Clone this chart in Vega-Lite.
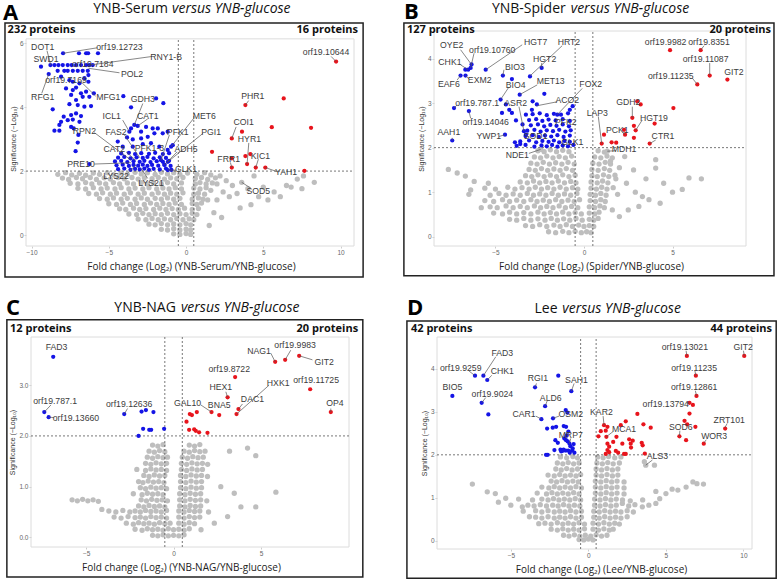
{
"$schema":"https://vega.github.io/schema/vega-lite/v6.json",
"padding":0,
"background":"white",
"columns":2,
"spacing":{"row":91,"column":80},
"bounds":"flush",
"align":"each",
"config":{
 "view":{"stroke":null},
 "axis":{"domain":false,"grid":false,"tickSize":2,"tickColor":"#cccccc","labelFont":"Liberation Sans","labelFontSize":6.5,"labelColor":"#666666","labelPadding":1,"titleFontWeight":"normal"},
 "axisX":{"titleFont":"Open Sans","titleFontSize":10,"titleColor":"#222222","titlePadding":6},
 "axisY":{"titleFont":"Liberation Sans","titleFontSize":7,"titleColor":"#333333","titlePadding":3}
},
"datasets":{
"ag":[{"x":-8.3,"y":1.9},{"x":-7.8,"y":1.95},{"x":-7.4,"y":1.88},{"x":-6.9,"y":1.93},{"x":-6.5,"y":1.87},{"x":-6.0,"y":1.94},{"x":-5.6,"y":1.9},{"x":-5.1,"y":1.95},{"x":-4.7,"y":1.89},{"x":-4.2,"y":1.94},{"x":-3.8,"y":1.9},{"x":-3.3,"y":1.96},{"x":-2.9,"y":1.91},{"x":-2.5,"y":1.95},{"x":-2.0,"y":1.9},{"x":-1.6,"y":1.96},{"x":-1.2,"y":1.91},{"x":-0.8,"y":1.95},{"x":-0.4,"y":1.9},{"x":0.1,"y":1.94},{"x":0.7,"y":1.9},{"x":1.2,"y":1.95},{"x":1.6,"y":1.88},
{"x":-8.0,"y":1.78},{"x":-7.6,"y":1.74},{"x":-7.1,"y":1.8},{"x":-6.7,"y":1.76},{"x":-6.2,"y":1.8},{"x":-5.8,"y":1.74},{"x":-5.3,"y":1.79},{"x":-4.9,"y":1.75},{"x":-4.4,"y":1.8},{"x":-4.0,"y":1.76},{"x":-3.5,"y":1.8},{"x":-3.1,"y":1.75},{"x":-2.7,"y":1.79},{"x":-2.2,"y":1.76},{"x":-1.8,"y":1.8},{"x":-1.4,"y":1.75},{"x":-1.0,"y":1.79},{"x":-0.6,"y":1.76},{"x":-0.2,"y":1.8},{"x":0.6,"y":1.77},{"x":1.0,"y":1.8},{"x":1.4,"y":1.74},{"x":1.9,"y":1.79},
{"x":-7.5,"y":1.62},{"x":-7.0,"y":1.6},{"x":-6.5,"y":1.64},{"x":-6.1,"y":1.6},{"x":-5.6,"y":1.63},{"x":-5.2,"y":1.6},{"x":-4.7,"y":1.64},{"x":-4.3,"y":1.6},{"x":-3.8,"y":1.63},{"x":-3.4,"y":1.6},{"x":-2.9,"y":1.64},{"x":-2.5,"y":1.6},{"x":-2.1,"y":1.63},{"x":-1.6,"y":1.6},{"x":-1.2,"y":1.64},{"x":-0.8,"y":1.6},{"x":-0.3,"y":1.63},{"x":0.6,"y":1.6},{"x":0.9,"y":1.64},{"x":1.3,"y":1.6},{"x":1.7,"y":1.63},
{"x":-7.0,"y":1.46},{"x":-6.5,"y":1.44},{"x":-6.0,"y":1.48},{"x":-5.5,"y":1.44},{"x":-5.1,"y":1.47},{"x":-4.6,"y":1.44},{"x":-4.2,"y":1.48},{"x":-3.7,"y":1.44},{"x":-3.3,"y":1.47},{"x":-2.8,"y":1.44},{"x":-2.4,"y":1.48},{"x":-1.9,"y":1.44},{"x":-1.5,"y":1.47},{"x":-1.1,"y":1.44},{"x":-0.7,"y":1.48},{"x":-0.3,"y":1.44},{"x":0.5,"y":1.47},{"x":0.9,"y":1.44},{"x":1.3,"y":1.48},
{"x":-6.3,"y":1.3},{"x":-5.8,"y":1.28},{"x":-5.4,"y":1.32},{"x":-4.9,"y":1.28},{"x":-4.5,"y":1.31},{"x":-4.0,"y":1.28},{"x":-3.6,"y":1.32},{"x":-3.1,"y":1.28},{"x":-2.7,"y":1.31},{"x":-2.2,"y":1.28},{"x":-1.8,"y":1.32},{"x":-1.4,"y":1.28},{"x":-1.0,"y":1.31},{"x":-0.6,"y":1.28},{"x":-0.2,"y":1.32},{"x":0.5,"y":1.28},{"x":0.8,"y":1.31},{"x":1.2,"y":1.28},
{"x":-5.6,"y":1.14},{"x":-5.1,"y":1.12},{"x":-4.7,"y":1.16},{"x":-4.2,"y":1.12},{"x":-3.8,"y":1.15},{"x":-3.3,"y":1.12},{"x":-2.9,"y":1.16},{"x":-2.5,"y":1.12},{"x":-2.0,"y":1.15},{"x":-1.6,"y":1.12},{"x":-1.2,"y":1.16},{"x":-0.8,"y":1.12},{"x":-0.4,"y":1.15},{"x":0.4,"y":1.12},{"x":0.8,"y":1.16},{"x":1.1,"y":1.12},
{"x":-5.0,"y":0.98},{"x":-4.5,"y":0.96},{"x":-4.1,"y":1.0},{"x":-3.6,"y":0.96},{"x":-3.2,"y":0.99},{"x":-2.7,"y":0.96},{"x":-2.3,"y":1.0},{"x":-1.9,"y":0.96},{"x":-1.5,"y":0.99},{"x":-1.1,"y":0.96},{"x":-0.7,"y":1.0},{"x":-0.3,"y":0.96},{"x":0.4,"y":0.99},{"x":0.7,"y":0.96},{"x":1.0,"y":1.0},
{"x":-4.3,"y":0.82},{"x":-3.9,"y":0.8},{"x":-3.4,"y":0.84},{"x":-3.0,"y":0.8},{"x":-2.6,"y":0.83},{"x":-2.1,"y":0.8},{"x":-1.7,"y":0.84},{"x":-1.3,"y":0.8},{"x":-0.9,"y":0.83},{"x":-0.5,"y":0.8},{"x":-0.1,"y":0.84},{"x":0.4,"y":0.8},{"x":0.8,"y":0.83},
{"x":-3.7,"y":0.66},{"x":-3.2,"y":0.64},{"x":-2.8,"y":0.68},{"x":-2.4,"y":0.64},{"x":-2.0,"y":0.67},{"x":-1.6,"y":0.64},{"x":-1.2,"y":0.68},{"x":-0.8,"y":0.64},{"x":-0.4,"y":0.67},{"x":0.0,"y":0.64},{"x":0.4,"y":0.68},{"x":0.7,"y":0.64},
{"x":-3.1,"y":0.5},{"x":-2.6,"y":0.48},{"x":-2.2,"y":0.52},{"x":-1.8,"y":0.48},{"x":-1.4,"y":0.51},{"x":-1.0,"y":0.48},{"x":-0.6,"y":0.52},{"x":-0.2,"y":0.48},{"x":0.2,"y":0.51},{"x":0.5,"y":0.48},
{"x":-2.4,"y":0.34},{"x":-2.0,"y":0.32},{"x":-1.6,"y":0.36},{"x":-1.2,"y":0.32},{"x":-0.8,"y":0.35},{"x":-0.4,"y":0.32},{"x":0.0,"y":0.36},{"x":0.3,"y":0.32},
{"x":-1.6,"y":0.18},{"x":-1.2,"y":0.16},{"x":-0.8,"y":0.2},{"x":-0.4,"y":0.16},{"x":0.0,"y":0.19},{"x":0.3,"y":0.16},
{"x":-0.8,"y":0.04},{"x":-0.4,"y":0.02},{"x":0.0,"y":0.05},{"x":0.3,"y":0.02},
{"x":2.2,"y":1.85},{"x":2.6,"y":1.7},{"x":3.0,"y":1.55},{"x":2.4,"y":1.35},{"x":2.0,"y":1.1},{"x":2.8,"y":1.2},{"x":3.6,"y":1.65},{"x":3.3,"y":1.3},{"x":4.0,"y":1.45},{"x":4.4,"y":1.85},{"x":4.7,"y":1.2},{"x":5.0,"y":1.5},{"x":5.3,"y":1.1},{"x":5.7,"y":1.35},{"x":6.1,"y":1.2},{"x":6.5,"y":1.55},{"x":6.8,"y":1.5},{"x":7.2,"y":1.75},{"x":7.6,"y":1.85},{"x":8.3,"y":1.65},{"x":7.5,"y":1.45},{"x":4.2,"y":0.95},{"x":3.5,"y":0.85},{"x":1.8,"y":0.7},{"x":2.3,"y":0.55},{"x":1.5,"y":0.3},{"x":1.6,"y":1.4},{"x":2.0,"y":1.6},{"x":1.4,"y":1.1}],
"ab":[{"x":-7.96,"y":5.68},{"x":-6.93,"y":5.68},{"x":-6.47,"y":5.68},{"x":-6.34,"y":5.68},{"x":-5.7,"y":5.68},
{"x":-9.39,"y":5.26},{"x":-8.78,"y":5.31},{"x":-8.52,"y":5.31},{"x":-8.26,"y":5.31},{"x":-7.98,"y":5.31},{"x":-7.66,"y":5.31},{"x":-7.4,"y":5.31},{"x":-7.12,"y":5.31},{"x":-6.8,"y":5.31},{"x":-6.47,"y":5.31},{"x":-6.26,"y":5.31},{"x":-6.04,"y":5.31},
{"x":-8.31,"y":5.13},{"x":-7.88,"y":5.13},{"x":-7.66,"y":5.13},{"x":-7.33,"y":5.13},{"x":-7.01,"y":5.13},{"x":-6.69,"y":5.13},{"x":-6.36,"y":5.13},{"x":-8.89,"y":5.03},
{"x":-8.09,"y":4.95},{"x":-7.55,"y":4.84},{"x":-7.33,"y":4.79},{"x":-6.58,"y":4.9},{"x":-6.32,"y":5.0},{"x":-6.32,"y":4.79},{"x":-6.9,"y":4.74},
{"x":-7.77,"y":4.58},{"x":-7.33,"y":4.53},{"x":-7.12,"y":4.61},{"x":-6.8,"y":4.43},{"x":-6.47,"y":4.48},{"x":-6.69,"y":4.32},{"x":-7.12,"y":4.22},{"x":-7.44,"y":4.38},{"x":-6.26,"y":4.32},{"x":-5.97,"y":4.43},
{"x":-7.55,"y":4.09},{"x":-7.01,"y":4.06},{"x":-6.58,"y":4.01},{"x":-6.15,"y":4.03},
{"x":-8.63,"y":3.93},{"x":-7.92,"y":3.7},{"x":-7.44,"y":3.75},{"x":-7.12,"y":3.8},{"x":-6.8,"y":3.72},{"x":-8.09,"y":3.54},{"x":-7.66,"y":3.59},{"x":-7.33,"y":3.61},{"x":-6.9,"y":3.54},{"x":-8.2,"y":3.44},{"x":-7.44,"y":3.38},{"x":-7.27,"y":3.33},{"x":-8.52,"y":3.26},{"x":-8.2,"y":3.26},{"x":-6.97,"y":3.13},{"x":-7.01,"y":2.89},{"x":-7.15,"y":2.62},
{"x":-4.06,"y":4.34},{"x":-1.94,"y":4.27},{"x":-1.47,"y":4.12},{"x":-3.56,"y":3.99},
{"x":-3.35,"y":3.44},{"x":-3.56,"y":3.33},{"x":-3.13,"y":3.41},{"x":-3.67,"y":3.23},{"x":-2.91,"y":3.23},{"x":-2.59,"y":3.38},{"x":-2.16,"y":3.33},{"x":-1.83,"y":3.33},{"x":-1.51,"y":3.18},{"x":-1.19,"y":3.23},{"x":-2.05,"y":3.18},{"x":-2.48,"y":3.07},{"x":-2.91,"y":3.02},{"x":-3.45,"y":2.99},{"x":-3.82,"y":3.05},{"x":-4.42,"y":2.92},{"x":-4.1,"y":2.76},{"x":-3.45,"y":2.76},{"x":-2.8,"y":2.84},{"x":-2.27,"y":2.87},{"x":-1.73,"y":2.76},{"x":-1.19,"y":2.66},{"x":-0.86,"y":2.81},{"x":-0.97,"y":2.76},
{"x":-4.2,"y":2.55},{"x":-3.7,"y":2.57},{"x":-3.3,"y":2.53},{"x":-2.9,"y":2.56},{"x":-2.4,"y":2.54},{"x":-2.0,"y":2.57},{"x":-1.5,"y":2.53},{"x":-1.1,"y":2.56},
{"x":-4.4,"y":2.42},{"x":-4.0,"y":2.44},{"x":-3.6,"y":2.4},{"x":-3.2,"y":2.43},{"x":-2.8,"y":2.41},{"x":-2.5,"y":2.44},{"x":-2.1,"y":2.4},{"x":-1.7,"y":2.43},{"x":-1.3,"y":2.41},
{"x":-4.6,"y":2.3},{"x":-4.2,"y":2.32},{"x":-3.8,"y":2.28},{"x":-3.4,"y":2.31},{"x":-3.0,"y":2.29},{"x":-2.7,"y":2.32},{"x":-2.3,"y":2.28},{"x":-1.9,"y":2.31},{"x":-1.5,"y":2.29},{"x":-1.1,"y":2.32},
{"x":-4.5,"y":2.18},{"x":-4.1,"y":2.2},{"x":-3.7,"y":2.16},{"x":-3.4,"y":2.19},{"x":-3.1,"y":2.17},{"x":-2.8,"y":2.2},{"x":-2.5,"y":2.16},{"x":-2.2,"y":2.19},{"x":-1.8,"y":2.17},{"x":-1.4,"y":2.2},{"x":-1.0,"y":2.16},
{"x":-4.4,"y":2.06},{"x":-4.0,"y":2.08},{"x":-3.6,"y":2.04},{"x":-3.3,"y":2.07},{"x":-3.0,"y":2.05},{"x":-2.7,"y":2.08},{"x":-2.4,"y":2.04},{"x":-2.1,"y":2.07},{"x":-1.7,"y":2.05},{"x":-1.3,"y":2.08},{"x":-0.95,"y":2.04},
{"x":-6.26,"y":2.22},{"x":-1.18,"y":2.03},{"x":-1.4,"y":2.19},{"x":-1.18,"y":2.29},{"x":-1.62,"y":2.34}],
"ar":[{"x":9.71,"y":5.42},{"x":6.32,"y":4.27},{"x":3.84,"y":4.06},{"x":5.55,"y":3.37},{"x":8.09,"y":3.35},{"x":3.62,"y":3.23},{"x":2.96,"y":3.02},{"x":1.68,"y":2.6},{"x":4.16,"y":2.53},{"x":3.84,"y":2.47},{"x":2.96,"y":2.4},{"x":3.95,"y":2.22},{"x":2.96,"y":2.11},{"x":4.51,"y":2.11},{"x":5.13,"y":2.11},{"x":7.66,"y":2.01}],
"al":[{"t":"DOT1","x":-8.76,"y":5.31,"ex":-9.0,"ey":5.76,"lx":-9.28,"ly":5.88},
{"t":"SWD1","x":-9.06,"y":5.49,"ex":-9.06,"ey":5.49,"lx":-9.06,"ly":5.49},
{"t":"orf19.12723","x":-7.96,"y":5.68,"ex":-5.75,"ey":5.85,"lx":-4.31,"ly":5.88},
{"t":"RNY1-B","x":-6.26,"y":5.31,"ex":-2.2,"ey":5.58,"lx":-1.29,"ly":5.57},
{"t":"orf19.7184","x":-6.04,"y":5.34,"ex":-6.04,"ey":5.34,"lx":-6.04,"ly":5.34},
{"t":"POL2","x":-6.32,"y":5.21,"ex":-4.31,"ey":5.07,"lx":-3.5,"ly":5.03},
{"t":"orf19.7169","x":-7.77,"y":4.84,"ex":-7.77,"ey":4.84,"lx":-7.77,"ly":4.84},
{"t":"RFG1","x":-8.89,"y":5.03,"ex":-9.34,"ey":4.43,"lx":-9.28,"ly":4.3},
{"t":"MFG1","x":-6.8,"y":4.79,"ex":-5.85,"ey":4.34,"lx":-5.03,"ly":4.3},
{"t":"GDH3","x":-3.35,"y":3.44,"ex":-2.8,"ey":4.11,"lx":-2.8,"ly":4.25},
{"t":"ICL1","x":-3.67,"y":3.23,"ex":-4.1,"ey":3.59,"lx":-4.81,"ly":3.73},
{"t":"CAT1","x":-3.13,"y":3.41,"ex":-2.48,"ey":3.63,"lx":-2.48,"ly":3.73},
{"t":"FAS2","x":-3.0,"y":2.42,"ex":-3.99,"ey":3.13,"lx":-4.53,"ly":3.23},
{"t":"RPN2","x":-3.56,"y":2.34,"ex":-5.93,"ey":3.2,"lx":-6.58,"ly":3.25},
{"t":"CAT2","x":-3.24,"y":2.33,"ex":-3.88,"ey":2.6,"lx":-4.64,"ly":2.69},
{"t":"PFK1-3","x":-2.37,"y":2.71,"ex":-2.37,"ey":2.71,"lx":-2.37,"ly":2.71},
{"t":"PFK1","x":-1.62,"y":2.34,"ex":-1.08,"ey":3.13,"lx":-0.54,"ly":3.23},
{"t":"MET6","x":-0.97,"y":2.76,"ex":0.5,"ey":3.65,"lx":1.18,"ly":3.73},
{"t":"PGI1","x":-1.18,"y":2.29,"ex":1.1,"ey":3.18,"lx":1.62,"ly":3.23},
{"t":"ADH5","x":-1.4,"y":2.19,"ex":-0.58,"ey":2.6,"lx":0.0,"ly":2.69},
{"t":"GLK1","x":-1.18,"y":2.03,"ex":-0.65,"ey":2.03,"lx":0.0,"ly":2.05},
{"t":"PRE10","x":-3.56,"y":2.26,"ex":-5.93,"ey":2.22,"lx":-6.8,"ly":2.21},
{"t":"LYS22","x":-3.24,"y":2.19,"ex":-3.77,"ey":1.95,"lx":-4.53,"ly":1.85},
{"t":"LYS21","x":-2.91,"y":2.08,"ex":-2.48,"ey":1.77,"lx":-2.27,"ly":1.63},
{"t":"orf19.10644","x":9.71,"y":5.42,"ex":9.39,"ey":5.58,"lx":9.06,"ly":5.71},
{"t":"PHR1","x":3.84,"y":4.06,"ex":4.05,"ey":4.2,"lx":4.32,"ly":4.34},
{"t":"COI1","x":2.96,"y":3.02,"ex":3.24,"ey":3.38,"lx":3.73,"ly":3.54},
{"t":"HYR1","x":3.95,"y":2.22,"ex":4.06,"ey":2.88,"lx":4.1,"ly":3.0},
{"t":"KIC1","x":4.51,"y":2.11,"ex":4.68,"ey":2.37,"lx":4.81,"ly":2.48},
{"t":"FRR1","x":2.96,"y":2.11,"ex":2.87,"ey":2.27,"lx":2.76,"ly":2.37},
{"t":"YAH1","x":5.13,"y":2.11,"ex":5.9,"ey":1.98,"lx":6.47,"ly":1.96},
{"t":"SOD5","x":3.6,"y":1.65,"ex":4.21,"ey":1.46,"lx":4.68,"ly":1.38}],
"bg":[{"x":-2.6,"y":1.93},{"x":-2.25,"y":1.91},{"x":-1.9,"y":1.95},{"x":-1.55,"y":1.91},{"x":-1.2,"y":1.94},{"x":-0.85,"y":1.91},{"x":0.8,"y":1.93},{"x":1.15,"y":1.9},
{"x":-2.8,"y":1.79},{"x":-2.45,"y":1.77},{"x":-2.1,"y":1.81},{"x":-1.75,"y":1.77},{"x":-1.4,"y":1.8},{"x":-1.05,"y":1.77},{"x":-0.7,"y":1.81},{"x":0.6,"y":1.79},{"x":0.95,"y":1.77},{"x":1.3,"y":1.81},{"x":1.6,"y":1.77},
{"x":-3.0,"y":1.65},{"x":-2.65,"y":1.63},{"x":-2.3,"y":1.67},{"x":-1.95,"y":1.63},{"x":-1.6,"y":1.66},{"x":-1.25,"y":1.63},{"x":-0.9,"y":1.67},{"x":-0.55,"y":1.63},{"x":0.5,"y":1.65},{"x":0.85,"y":1.63},{"x":1.2,"y":1.67},{"x":1.5,"y":1.63},
{"x":-7.66,"y":1.51},{"x":-3.1,"y":1.51},{"x":-2.75,"y":1.49},{"x":-2.4,"y":1.53},{"x":-2.05,"y":1.49},{"x":-1.7,"y":1.52},{"x":-1.35,"y":1.49},{"x":-1.0,"y":1.53},{"x":-0.65,"y":1.49},{"x":0.45,"y":1.51},{"x":0.8,"y":1.49},{"x":1.15,"y":1.53},{"x":1.45,"y":1.49},
{"x":-7.16,"y":1.43},{"x":-6.7,"y":1.36},{"x":-3.3,"y":1.37},{"x":-2.95,"y":1.35},{"x":-2.6,"y":1.39},{"x":-2.25,"y":1.35},{"x":-1.9,"y":1.38},{"x":-1.55,"y":1.35},{"x":-1.2,"y":1.39},{"x":-0.85,"y":1.35},{"x":-0.5,"y":1.38},{"x":0.45,"y":1.37},{"x":0.75,"y":1.35},{"x":1.1,"y":1.39},{"x":1.4,"y":1.35},{"x":1.75,"y":1.38},
{"x":-6.2,"y":1.24},{"x":-5.4,"y":1.2},{"x":-3.6,"y":1.23},{"x":-3.2,"y":1.21},{"x":-2.85,"y":1.25},{"x":-2.5,"y":1.21},{"x":-2.15,"y":1.24},{"x":-1.8,"y":1.21},{"x":-1.45,"y":1.25},{"x":-1.1,"y":1.21},{"x":-0.75,"y":1.24},{"x":-0.45,"y":1.21},{"x":0.4,"y":1.23},{"x":0.75,"y":1.21},{"x":1.05,"y":1.25},{"x":1.35,"y":1.21},
{"x":-6.4,"y":1.05},{"x":-5.6,"y":1.09},{"x":-5.0,"y":1.07},{"x":-4.3,"y":1.11},{"x":-3.9,"y":1.07},{"x":-3.5,"y":1.1},{"x":-3.1,"y":1.07},{"x":-2.75,"y":1.11},{"x":-2.4,"y":1.07},{"x":-2.05,"y":1.1},{"x":-1.7,"y":1.07},{"x":-1.35,"y":1.11},{"x":-1.0,"y":1.07},{"x":-0.65,"y":1.1},{"x":-0.35,"y":1.07},{"x":0.4,"y":1.09},{"x":0.7,"y":1.07},{"x":1.0,"y":1.11},{"x":1.3,"y":1.07},{"x":1.65,"y":1.1},
{"x":-6.5,"y":0.95},{"x":-5.3,"y":0.93},{"x":-4.8,"y":0.97},{"x":-4.4,"y":0.93},{"x":-4.0,"y":0.96},{"x":-3.6,"y":0.93},{"x":-3.2,"y":0.97},{"x":-2.85,"y":0.93},{"x":-2.5,"y":0.96},{"x":-2.15,"y":0.93},{"x":-1.8,"y":0.97},{"x":-1.45,"y":0.93},{"x":-1.1,"y":0.96},{"x":-0.75,"y":0.93},{"x":-0.4,"y":0.97},{"x":0.35,"y":0.95},{"x":0.65,"y":0.93},{"x":0.95,"y":0.97},{"x":1.25,"y":0.93},
{"x":-5.6,"y":0.81},{"x":-5.1,"y":0.79},{"x":-4.6,"y":0.83},{"x":-4.2,"y":0.79},{"x":-3.8,"y":0.82},{"x":-3.4,"y":0.79},{"x":-3.0,"y":0.83},{"x":-2.65,"y":0.79},{"x":-2.3,"y":0.82},{"x":-1.95,"y":0.79},{"x":-1.6,"y":0.83},{"x":-1.25,"y":0.79},{"x":-0.9,"y":0.82},{"x":-0.55,"y":0.79},{"x":-0.25,"y":0.83},{"x":0.35,"y":0.81},{"x":0.65,"y":0.79},{"x":0.95,"y":0.83},{"x":1.2,"y":0.79},
{"x":-5.8,"y":0.65},{"x":-5.3,"y":0.67},{"x":-4.9,"y":0.65},{"x":-4.4,"y":0.69},{"x":-4.0,"y":0.65},{"x":-3.6,"y":0.68},{"x":-3.2,"y":0.65},{"x":-2.8,"y":0.69},{"x":-2.45,"y":0.65},{"x":-2.1,"y":0.68},{"x":-1.75,"y":0.65},{"x":-1.4,"y":0.69},{"x":-1.05,"y":0.65},{"x":-0.7,"y":0.68},{"x":-0.35,"y":0.65},{"x":0.3,"y":0.67},{"x":0.6,"y":0.65},{"x":0.9,"y":0.69},{"x":1.15,"y":0.65},
{"x":-5.1,"y":0.53},{"x":-4.6,"y":0.51},{"x":-4.2,"y":0.55},{"x":-3.8,"y":0.51},{"x":-3.4,"y":0.54},{"x":-3.0,"y":0.51},{"x":-2.6,"y":0.55},{"x":-2.25,"y":0.51},{"x":-1.9,"y":0.54},{"x":-1.55,"y":0.51},{"x":-1.2,"y":0.55},{"x":-0.85,"y":0.51},{"x":-0.5,"y":0.54},{"x":-0.15,"y":0.51},{"x":0.3,"y":0.53},{"x":0.6,"y":0.51},{"x":0.85,"y":0.55},
{"x":-4.2,"y":0.39},{"x":-3.8,"y":0.37},{"x":-3.4,"y":0.41},{"x":-3.0,"y":0.37},{"x":-2.6,"y":0.4},{"x":-2.2,"y":0.37},{"x":-1.85,"y":0.41},{"x":-1.5,"y":0.37},{"x":-1.15,"y":0.4},{"x":-0.8,"y":0.37},{"x":-0.45,"y":0.41},{"x":-0.1,"y":0.37},{"x":0.3,"y":0.39},{"x":0.55,"y":0.37},{"x":0.8,"y":0.41},
{"x":-3.3,"y":0.25},{"x":-2.9,"y":0.23},{"x":-2.5,"y":0.27},{"x":-2.1,"y":0.23},{"x":-1.7,"y":0.26},{"x":-1.35,"y":0.23},{"x":-1.0,"y":0.27},{"x":-0.65,"y":0.23},{"x":-0.3,"y":0.26},{"x":0.0,"y":0.23},{"x":0.3,"y":0.25},{"x":0.55,"y":0.23},
{"x":-2.0,"y":0.11},{"x":-1.6,"y":0.09},{"x":-1.2,"y":0.12},{"x":-0.85,"y":0.09},{"x":-0.5,"y":0.12},{"x":-0.15,"y":0.09},{"x":0.15,"y":0.11},{"x":0.4,"y":0.09},
{"x":1.5,"y":1.7},{"x":2.0,"y":1.55},{"x":1.8,"y":1.3},{"x":2.4,"y":1.2},{"x":2.9,"y":1.0},{"x":3.3,"y":0.9},{"x":3.67,"y":0.83},{"x":3.1,"y":0.68},{"x":4.05,"y":1.73},{"x":4.05,"y":1.54},{"x":4.5,"y":1.2},{"x":5.0,"y":1.0},{"x":5.55,"y":1.06},{"x":5.93,"y":1.32},{"x":6.63,"y":1.3},{"x":2.5,"y":0.6},{"x":2.0,"y":0.45},{"x":4.3,"y":0.75},{"x":3.5,"y":1.3},{"x":2.8,"y":1.5},{"x":2.3,"y":1.8},{"x":1.32,"y":1.92},{"x":-2.45,"y":1.96},{"x":1.9,"y":0.95},{"x":1.6,"y":0.6}],
"bb":[{"x":-6.35,"y":3.87},{"x":-6.4,"y":3.79},{"x":-6.54,"y":3.75},{"x":-6.7,"y":3.75},{"x":-6.97,"y":3.62},{"x":-6.69,"y":3.62},{"x":-5.55,"y":3.75},{"x":-4.58,"y":3.62},{"x":-4.07,"y":3.54},{"x":-3.05,"y":3.6},{"x":-2.39,"y":3.79},{"x":-4.71,"y":3.08},{"x":-3.63,"y":3.19},{"x":-7.34,"y":2.89},{"x":-6.5,"y":2.82},{"x":-7.44,"y":2.16},{"x":-4.46,"y":2.29},{"x":-2.9,"y":3.04},{"x":-2.66,"y":2.97},{"x":-2.24,"y":3.21},{"x":-4.41,"y":2.97},{"x":-4.22,"y":2.85},{"x":-4.07,"y":2.78},{"x":-4.63,"y":2.78},{"x":-3.28,"y":2.74},{"x":-3.84,"y":2.61},{"x":-3.47,"y":2.52},{"x":-2.94,"y":2.85},{"x":-0.64,"y":2.93},{"x":-0.8,"y":2.85},{"x":-3.9,"y":2.12},{"x":-3.6,"y":2.08},{"x":-3.28,"y":2.29},{"x":-3.39,"y":2.37},{"x":-1.51,"y":2.74},
{"x":-2.9,"y":2.75},{"x":-2.5,"y":2.77},{"x":-2.1,"y":2.73},{"x":-1.7,"y":2.76},{"x":-1.3,"y":2.74},{"x":-0.9,"y":2.77},
{"x":-3.1,"y":2.62},{"x":-2.7,"y":2.64},{"x":-2.35,"y":2.6},{"x":-2.0,"y":2.63},{"x":-1.6,"y":2.61},{"x":-1.2,"y":2.64},{"x":-0.8,"y":2.6},
{"x":-3.0,"y":2.5},{"x":-2.6,"y":2.52},{"x":-2.25,"y":2.48},{"x":-1.9,"y":2.51},{"x":-1.55,"y":2.49},{"x":-1.2,"y":2.52},{"x":-0.85,"y":2.48},
{"x":-3.2,"y":2.38},{"x":-2.8,"y":2.4},{"x":-2.45,"y":2.36},{"x":-2.1,"y":2.39},{"x":-1.75,"y":2.37},{"x":-1.4,"y":2.4},{"x":-1.05,"y":2.36},{"x":-0.75,"y":2.39},
{"x":-3.3,"y":2.26},{"x":-2.9,"y":2.28},{"x":-2.55,"y":2.24},{"x":-2.2,"y":2.27},{"x":-1.85,"y":2.25},{"x":-1.5,"y":2.28},{"x":-1.15,"y":2.24},{"x":-0.8,"y":2.27},
{"x":-3.6,"y":2.14},{"x":-3.1,"y":2.16},{"x":-2.7,"y":2.12},{"x":-2.35,"y":2.15},{"x":-2.0,"y":2.13},{"x":-1.7,"y":2.16},{"x":-1.4,"y":2.12},{"x":-1.1,"y":2.15},{"x":-0.8,"y":2.13},
{"x":-3.8,"y":2.04},{"x":-3.3,"y":2.06},{"x":-2.8,"y":2.02},{"x":-2.4,"y":2.05},{"x":-2.1,"y":2.03},{"x":-1.8,"y":2.06},{"x":-1.5,"y":2.02},{"x":-1.2,"y":2.05},{"x":-0.9,"y":2.03},{"x":-0.6,"y":2.06}],
"br":[{"x":4.86,"y":4.19},{"x":6.59,"y":4.19},{"x":7.1,"y":3.62},{"x":8.1,"y":3.53},{"x":6.4,"y":3.42},{"x":5.05,"y":2.89},{"x":3.01,"y":3.04},{"x":3.2,"y":2.97},{"x":2.73,"y":2.67},{"x":2.82,"y":2.49},{"x":2.92,"y":2.39},{"x":3.99,"y":2.54},{"x":2.26,"y":2.4},{"x":2.32,"y":2.29},{"x":2.82,"y":2.22},{"x":3.71,"y":2.09},{"x":1.0,"y":2.09},{"x":1.13,"y":2.29},{"x":1.56,"y":2.12},{"x":1.82,"y":2.11}],
"bl":[{"t":"OYE2","x":-6.34,"y":3.86,"ex":-6.97,"ey":4.2,"lx":-7.47,"ly":4.31},
{"t":"orf19.10760","x":-6.4,"y":3.79,"ex":-6.21,"ey":4.12,"lx":-5.18,"ly":4.2},
{"t":"HGT7","x":-5.55,"y":3.75,"ex":-3.49,"ey":4.31,"lx":-2.73,"ly":4.38},
{"t":"HRT2","x":-3.05,"y":3.61,"ex":-1.23,"ey":4.29,"lx":-0.85,"ly":4.38},
{"t":"CHK1","x":-6.54,"y":3.75,"ex":-6.97,"ey":3.86,"lx":-7.57,"ly":3.93},
{"t":"EAF6","x":-6.97,"y":3.62,"ex":-7.16,"ey":3.52,"lx":-7.63,"ly":3.43},
{"t":"EXM2","x":-6.69,"y":3.62,"ex":-6.5,"ey":3.54,"lx":-5.89,"ly":3.52},
{"t":"BIO3","x":-4.58,"y":3.62,"ex":-4.52,"ey":3.75,"lx":-3.9,"ly":3.82},
{"t":"HGT2","x":-2.39,"y":3.79,"ex":-2.39,"ey":3.9,"lx":-2.22,"ly":3.99},
{"t":"BIO4","x":-4.71,"y":3.08,"ex":-4.24,"ey":3.36,"lx":-3.86,"ly":3.41},
{"t":"MET13","x":-3.63,"y":3.19,"ex":-2.64,"ey":3.41,"lx":-1.88,"ly":3.5},
{"t":"orf19.787.1","x":-7.34,"y":2.89,"ex":-7.16,"ey":2.96,"lx":-6.03,"ly":3.01},
{"t":"orf19.14046","x":-6.5,"y":2.82,"ex":-6.4,"ey":2.66,"lx":-5.55,"ly":2.58},
{"t":"ASR2","x":-3.39,"y":2.37,"ex":-3.67,"ey":2.92,"lx":-3.86,"ly":3.01},
{"t":"ACO2","x":-2.67,"y":2.94,"ex":-1.51,"ey":3.03,"lx":-0.94,"ly":3.07},
{"t":"AAH1","x":-7.44,"y":2.16,"ex":-7.44,"ey":2.22,"lx":-7.63,"ly":2.34},
{"t":"YWP1","x":-4.46,"y":2.29,"ex":-4.8,"ey":2.25,"lx":-5.37,"ly":2.25},
{"t":"NDE1","x":-2.45,"y":1.96,"ex":-3.11,"ey":1.87,"lx":-3.77,"ly":1.84},
{"t":"SOD1","x":-2.73,"y":2.25,"ex":-2.73,"ey":2.25,"lx":-2.73,"ly":2.25},
{"t":"PFK2","x":-1.03,"y":2.58,"ex":-1.03,"ey":2.58,"lx":-1.03,"ly":2.58},
{"t":"GLK1","x":-0.66,"y":2.13,"ex":-0.66,"ey":2.13,"lx":-0.66,"ly":2.13},
{"t":"FOX2","x":-1.51,"y":2.74,"ex":-0.1,"ey":3.33,"lx":0.38,"ly":3.43},
{"t":"orf19.9982","x":4.86,"y":4.19,"ex":4.86,"ey":4.19,"lx":4.61,"ly":4.38},
{"t":"orf19.8351","x":6.59,"y":4.19,"ex":6.78,"ey":4.29,"lx":7.06,"ly":4.38},
{"t":"orf19.11087","x":7.1,"y":3.62,"ex":7.1,"ey":3.9,"lx":6.87,"ly":3.99},
{"t":"GIT2","x":8.1,"y":3.53,"ex":8.1,"ey":3.53,"lx":8.47,"ly":3.71},
{"t":"orf19.11235","x":6.4,"y":3.42,"ex":6.12,"ey":3.56,"lx":4.9,"ly":3.61},
{"t":"GDH2","x":2.73,"y":2.67,"ex":2.73,"ey":2.92,"lx":2.5,"ly":3.02},
{"t":"HGT19","x":2.92,"y":2.39,"ex":3.29,"ey":2.62,"lx":3.95,"ly":2.66},
{"t":"PCK1","x":2.32,"y":2.29,"ex":2.2,"ey":2.33,"lx":1.88,"ly":2.4},
{"t":"CTR1","x":3.71,"y":2.09,"ex":4.05,"ey":2.17,"lx":4.46,"ly":2.26},
{"t":"LAP3","x":1.0,"y":2.09,"ex":0.81,"ey":2.7,"lx":0.75,"ly":2.77},
{"t":"MDH1","x":1.32,"y":1.92,"ex":1.79,"ey":1.93,"lx":2.26,"ly":1.96}],
"cg":[{"x":-1.2,"y":1.82},{"x":-0.9,"y":1.8},{"x":-0.6,"y":1.83},{"x":0.9,"y":1.82},{"x":1.2,"y":1.8},{"x":1.5,"y":1.83},
{"x":-1.4,"y":1.7},{"x":-1.1,"y":1.68},{"x":-0.8,"y":1.71},{"x":-0.5,"y":1.69},{"x":0.6,"y":1.7},{"x":0.9,"y":1.68},{"x":1.2,"y":1.71},{"x":1.5,"y":1.69},{"x":1.8,"y":1.7},{"x":3.2,"y":1.7},
{"x":-1.5,"y":1.58},{"x":-1.2,"y":1.56},{"x":-0.9,"y":1.59},{"x":-0.6,"y":1.57},{"x":-0.35,"y":1.58},{"x":0.5,"y":1.58},{"x":0.8,"y":1.56},{"x":1.1,"y":1.59},{"x":1.4,"y":1.57},{"x":1.7,"y":1.58},{"x":4.23,"y":1.76},{"x":4.7,"y":1.61},
{"x":-1.6,"y":1.46},{"x":-1.3,"y":1.44},{"x":-1.0,"y":1.47},{"x":-0.7,"y":1.45},{"x":-0.4,"y":1.46},{"x":0.45,"y":1.46},{"x":0.75,"y":1.44},{"x":1.05,"y":1.47},{"x":1.35,"y":1.45},{"x":1.65,"y":1.46},{"x":1.95,"y":1.44},
{"x":-2.1,"y":1.34},{"x":-1.6,"y":1.32},{"x":-1.3,"y":1.35},{"x":-1.0,"y":1.33},{"x":-0.7,"y":1.34},{"x":-0.4,"y":1.32},{"x":0.45,"y":1.34},{"x":0.75,"y":1.32},{"x":1.05,"y":1.35},{"x":1.35,"y":1.33},{"x":1.65,"y":1.34},
{"x":-1.7,"y":1.22},{"x":-1.4,"y":1.2},{"x":-1.1,"y":1.23},{"x":-0.8,"y":1.21},{"x":-0.5,"y":1.22},{"x":0.4,"y":1.22},{"x":0.7,"y":1.2},{"x":1.0,"y":1.23},{"x":1.3,"y":1.21},{"x":1.6,"y":1.22},{"x":1.94,"y":1.2},
{"x":-2.0,"y":1.1},{"x":-1.75,"y":1.08},{"x":-1.45,"y":1.11},{"x":-1.15,"y":1.09},{"x":-0.85,"y":1.1},{"x":-0.55,"y":1.08},{"x":0.4,"y":1.1},{"x":0.7,"y":1.08},{"x":1.0,"y":1.11},{"x":1.3,"y":1.09},{"x":1.6,"y":1.1},
{"x":-1.9,"y":0.98},{"x":-1.6,"y":0.96},{"x":-1.3,"y":0.99},{"x":-1.0,"y":0.97},{"x":-0.7,"y":0.98},{"x":-0.4,"y":0.96},{"x":0.4,"y":0.98},{"x":0.7,"y":0.96},{"x":1.0,"y":0.99},{"x":1.3,"y":0.97},{"x":1.6,"y":0.98},{"x":2.7,"y":1.0},
{"x":-2.3,"y":0.86},{"x":-1.8,"y":0.84},{"x":-1.5,"y":0.87},{"x":-1.2,"y":0.85},{"x":-0.9,"y":0.86},{"x":-0.6,"y":0.84},{"x":0.35,"y":0.86},{"x":0.65,"y":0.84},{"x":0.95,"y":0.87},{"x":1.25,"y":0.85},{"x":1.55,"y":0.86},{"x":3.47,"y":0.87},{"x":5.85,"y":0.89},
{"x":-5.8,"y":0.74},{"x":-5.5,"y":0.72},{"x":-5.2,"y":0.75},{"x":-4.9,"y":0.72},{"x":-4.6,"y":0.74},{"x":-4.3,"y":0.71},{"x":-1.85,"y":0.74},{"x":-1.55,"y":0.72},{"x":-1.25,"y":0.75},{"x":-0.95,"y":0.73},{"x":-0.65,"y":0.74},{"x":-0.35,"y":0.72},{"x":0.35,"y":0.74},{"x":0.65,"y":0.72},{"x":0.95,"y":0.75},{"x":1.25,"y":0.73},{"x":1.55,"y":0.74},{"x":1.9,"y":0.72},
{"x":-2.0,"y":0.62},{"x":-1.7,"y":0.6},{"x":-1.4,"y":0.63},{"x":-1.1,"y":0.61},{"x":-0.8,"y":0.62},{"x":-0.5,"y":0.6},{"x":0.35,"y":0.62},{"x":0.65,"y":0.6},{"x":0.95,"y":0.63},{"x":1.25,"y":0.61},{"x":1.55,"y":0.62},{"x":3.85,"y":0.6},{"x":4.7,"y":0.6},
{"x":-4.1,"y":0.55},{"x":-3.7,"y":0.52},{"x":-3.3,"y":0.5},{"x":-2.9,"y":0.53},{"x":-2.5,"y":0.5},{"x":-2.2,"y":0.52},{"x":-1.9,"y":0.5},{"x":-1.6,"y":0.53},{"x":-1.3,"y":0.51},{"x":-1.0,"y":0.52},{"x":-0.7,"y":0.5},{"x":-0.4,"y":0.53},{"x":0.3,"y":0.52},{"x":0.6,"y":0.5},{"x":0.9,"y":0.53},{"x":1.2,"y":0.51},{"x":1.5,"y":0.52},{"x":2.0,"y":0.5},
{"x":-3.4,"y":0.4},{"x":-3.0,"y":0.38},{"x":-2.6,"y":0.41},{"x":-2.2,"y":0.39},{"x":-1.9,"y":0.4},{"x":-1.6,"y":0.38},{"x":-1.3,"y":0.41},{"x":-1.0,"y":0.39},{"x":-0.7,"y":0.4},{"x":-0.4,"y":0.38},{"x":0.3,"y":0.4},{"x":0.6,"y":0.38},{"x":0.9,"y":0.41},{"x":1.2,"y":0.39},{"x":1.5,"y":0.4},{"x":3.09,"y":0.41},
{"x":-2.7,"y":0.28},{"x":-2.3,"y":0.26},{"x":-2.0,"y":0.29},{"x":-1.7,"y":0.27},{"x":-1.4,"y":0.28},{"x":-1.1,"y":0.26},{"x":-0.8,"y":0.29},{"x":-0.5,"y":0.27},{"x":-0.2,"y":0.28},{"x":0.3,"y":0.28},{"x":0.6,"y":0.26},{"x":0.9,"y":0.29},{"x":1.2,"y":0.27},{"x":2.33,"y":0.28},
{"x":-2.2,"y":0.16},{"x":-1.8,"y":0.14},{"x":-1.5,"y":0.17},{"x":-1.2,"y":0.15},{"x":-0.9,"y":0.16},{"x":-0.6,"y":0.14},{"x":-0.3,"y":0.17},{"x":0.0,"y":0.15},{"x":0.3,"y":0.16},{"x":0.6,"y":0.14},{"x":0.9,"y":0.17},{"x":1.57,"y":0.15},
{"x":-1.2,"y":0.04},{"x":-0.9,"y":0.03},{"x":-0.6,"y":0.05},{"x":-0.3,"y":0.03},{"x":0.0,"y":0.04},{"x":0.3,"y":0.03},{"x":0.6,"y":0.05}],
"cb":[{"x":-6.88,"y":3.56},{"x":-7.39,"y":2.47},{"x":-7.14,"y":2.37},{"x":-2.82,"y":2.43},{"x":-1.83,"y":2.48},{"x":-1.58,"y":2.51},{"x":-1.15,"y":2.47},{"x":-1.74,"y":2.14},{"x":-1.39,"y":2.12},{"x":-1.28,"y":2.12},{"x":-0.54,"y":2.14},{"x":-2.0,"y":2.0}],
"cr":[{"x":5.81,"y":3.46},{"x":6.38,"y":3.5},{"x":7.18,"y":3.58},{"x":3.52,"y":3.16},{"x":7.81,"y":2.92},{"x":3.09,"y":2.76},{"x":3.71,"y":2.53},{"x":3.6,"y":2.43},{"x":2.61,"y":2.41},{"x":2.17,"y":2.47},{"x":8.99,"y":2.47},{"x":1.33,"y":2.47},{"x":0.93,"y":2.43},{"x":1.05,"y":2.41},{"x":0.74,"y":2.28},{"x":0.89,"y":2.12},{"x":1.18,"y":2.13},{"x":1.27,"y":2.1},{"x":1.46,"y":2.07},{"x":1.94,"y":2.06}],
"cl":[{"t":"FAD3","x":-6.88,"y":3.56,"ex":-6.88,"ey":3.56,"lx":-6.69,"ly":3.75},
{"t":"orf19.787.1","x":-7.39,"y":2.47,"ex":-7.01,"ey":2.61,"lx":-6.77,"ly":2.69},
{"t":"orf19.13660","x":-7.14,"y":2.37,"ex":-6.82,"ey":2.36,"lx":-5.58,"ly":2.35},
{"t":"orf19.12636","x":-2.82,"y":2.43,"ex":-2.63,"ey":2.54,"lx":-2.54,"ly":2.62},
{"t":"NAG1","x":5.81,"y":3.46,"ex":5.56,"ey":3.63,"lx":4.89,"ly":3.68},
{"t":"orf19.9983","x":6.38,"y":3.5,"ex":6.7,"ey":3.69,"lx":6.95,"ly":3.79},
{"t":"GIT2","x":7.18,"y":3.58,"ex":7.94,"ey":3.5,"lx":8.61,"ly":3.46},
{"t":"orf19.8722","x":3.52,"y":3.16,"ex":3.52,"ey":3.16,"lx":3.18,"ly":3.32},
{"t":"orf19.11725","x":7.81,"y":2.92,"ex":7.81,"ey":2.92,"lx":8.15,"ly":3.1},
{"t":"HEX1","x":3.09,"y":2.76,"ex":2.99,"ey":2.87,"lx":2.7,"ly":2.97},
{"t":"HXK1","x":3.6,"y":2.43,"ex":5.46,"ey":3.0,"lx":5.98,"ly":3.05},
{"t":"DAC1","x":3.71,"y":2.53,"ex":3.94,"ey":2.63,"lx":4.51,"ly":2.72},
{"t":"BNA5","x":2.61,"y":2.41,"ex":2.61,"ey":2.41,"lx":2.61,"ly":2.6},
{"t":"GAL10","x":2.17,"y":2.47,"ex":1.56,"ey":2.61,"lx":0.8,"ly":2.64},
{"t":"OP4","x":8.99,"y":2.47,"ex":8.99,"ey":2.54,"lx":9.22,"ly":2.64}],
"dg":[{"x":-1.8,"y":1.95},{"x":-1.4,"y":1.93},{"x":-1.0,"y":1.96},{"x":-0.7,"y":1.93},{"x":0.6,"y":1.95},{"x":0.95,"y":1.93},{"x":1.3,"y":1.96},{"x":1.7,"y":1.93},{"x":2.1,"y":1.95},
{"x":-2.0,"y":1.81},{"x":-1.65,"y":1.79},{"x":-1.3,"y":1.82},{"x":-0.95,"y":1.79},{"x":-0.6,"y":1.81},{"x":0.55,"y":1.81},{"x":0.9,"y":1.79},{"x":1.25,"y":1.82},{"x":1.6,"y":1.79},{"x":2.0,"y":1.81},{"x":3.61,"y":1.84},
{"x":-2.1,"y":1.67},{"x":-1.75,"y":1.65},{"x":-1.4,"y":1.68},{"x":-1.05,"y":1.65},{"x":-0.7,"y":1.67},{"x":0.5,"y":1.67},{"x":0.85,"y":1.65},{"x":1.2,"y":1.68},{"x":1.55,"y":1.65},{"x":1.9,"y":1.67},{"x":4.26,"y":1.76},{"x":3.7,"y":1.76},
{"x":-2.6,"y":1.53},{"x":-2.2,"y":1.51},{"x":-1.85,"y":1.54},{"x":-1.5,"y":1.51},{"x":-1.15,"y":1.53},{"x":-0.8,"y":1.51},{"x":-0.5,"y":1.54},{"x":0.5,"y":1.53},{"x":0.85,"y":1.51},{"x":1.2,"y":1.54},{"x":1.55,"y":1.51},{"x":1.9,"y":1.53},
{"x":-2.4,"y":1.39},{"x":-2.05,"y":1.37},{"x":-1.7,"y":1.4},{"x":-1.35,"y":1.37},{"x":-1.0,"y":1.39},{"x":-0.65,"y":1.37},{"x":0.45,"y":1.39},{"x":0.8,"y":1.37},{"x":1.15,"y":1.4},{"x":1.5,"y":1.37},{"x":1.85,"y":1.39},{"x":2.3,"y":1.37},{"x":6.74,"y":1.37},{"x":7.0,"y":1.33},{"x":7.42,"y":1.32},
{"x":-7.48,"y":1.32},{"x":-3.0,"y":1.25},{"x":-2.55,"y":1.23},{"x":-2.2,"y":1.26},{"x":-1.85,"y":1.23},{"x":-1.5,"y":1.25},{"x":-1.15,"y":1.23},{"x":-0.8,"y":1.26},{"x":-0.45,"y":1.23},{"x":0.45,"y":1.25},{"x":0.8,"y":1.23},{"x":1.15,"y":1.26},{"x":1.5,"y":1.23},{"x":1.85,"y":1.25},{"x":2.3,"y":1.23},{"x":5.77,"y":1.18},{"x":6.3,"y":1.25},
{"x":-6.52,"y":1.14},{"x":-6.0,"y":1.1},{"x":-3.3,"y":1.11},{"x":-2.7,"y":1.09},{"x":-2.35,"y":1.12},{"x":-2.0,"y":1.09},{"x":-1.65,"y":1.11},{"x":-1.3,"y":1.09},{"x":-0.95,"y":1.12},{"x":-0.6,"y":1.09},{"x":0.45,"y":1.11},{"x":0.8,"y":1.09},{"x":1.15,"y":1.12},{"x":1.5,"y":1.09},{"x":1.85,"y":1.11},{"x":2.3,"y":1.09},{"x":4.35,"y":1.15},{"x":5.0,"y":1.1},{"x":5.4,"y":1.2},
{"x":-5.8,"y":0.9},{"x":-5.33,"y":0.99},{"x":-4.5,"y":0.97},{"x":-3.6,"y":0.95},{"x":-3.0,"y":0.97},{"x":-2.6,"y":0.95},{"x":-2.25,"y":0.98},{"x":-1.9,"y":0.95},{"x":-1.55,"y":0.97},{"x":-1.2,"y":0.95},{"x":-0.85,"y":0.98},{"x":-0.5,"y":0.95},{"x":0.4,"y":0.97},{"x":0.75,"y":0.95},{"x":1.1,"y":0.98},{"x":1.45,"y":0.95},{"x":1.8,"y":0.97},{"x":2.2,"y":0.95},{"x":2.7,"y":0.93},{"x":3.5,"y":0.95},{"x":4.6,"y":0.98},
{"x":-5.0,"y":0.83},{"x":-4.26,"y":0.79},{"x":-3.9,"y":0.83},{"x":-3.5,"y":0.81},{"x":-3.1,"y":0.84},{"x":-2.7,"y":0.81},{"x":-2.3,"y":0.83},{"x":-1.95,"y":0.81},{"x":-1.6,"y":0.84},{"x":-1.25,"y":0.81},{"x":-0.9,"y":0.83},{"x":-0.55,"y":0.81},{"x":0.4,"y":0.83},{"x":0.75,"y":0.81},{"x":1.1,"y":0.84},{"x":1.45,"y":0.81},{"x":1.8,"y":0.83},{"x":2.19,"y":0.87},{"x":2.6,"y":0.81},{"x":3.0,"y":0.84},{"x":3.48,"y":0.79},{"x":3.9,"y":0.83},{"x":4.35,"y":0.87},
{"x":-4.2,"y":0.69},{"x":-3.8,"y":0.56},{"x":-3.4,"y":0.7},{"x":-3.0,"y":0.67},{"x":-2.6,"y":0.7},{"x":-2.2,"y":0.67},{"x":-1.85,"y":0.69},{"x":-1.5,"y":0.67},{"x":-1.15,"y":0.7},{"x":-0.8,"y":0.67},{"x":-0.45,"y":0.69},{"x":0.35,"y":0.69},{"x":0.7,"y":0.67},{"x":1.05,"y":0.7},{"x":1.4,"y":0.67},{"x":1.75,"y":0.69},{"x":2.1,"y":0.67},{"x":2.5,"y":0.7},{"x":2.9,"y":0.67},
{"x":-3.4,"y":0.55},{"x":-3.0,"y":0.53},{"x":-2.6,"y":0.56},{"x":-2.2,"y":0.53},{"x":-1.85,"y":0.55},{"x":-1.5,"y":0.53},{"x":-1.15,"y":0.56},{"x":-0.8,"y":0.53},{"x":-0.45,"y":0.55},{"x":0.35,"y":0.55},{"x":0.7,"y":0.53},{"x":1.05,"y":0.56},{"x":1.4,"y":0.53},{"x":1.75,"y":0.55},{"x":2.1,"y":0.53},{"x":2.5,"y":0.56},
{"x":-3.2,"y":0.4},{"x":-2.8,"y":0.41},{"x":-2.4,"y":0.39},{"x":-2.0,"y":0.42},{"x":-1.65,"y":0.39},{"x":-1.3,"y":0.41},{"x":-0.95,"y":0.39},{"x":-0.6,"y":0.42},{"x":-0.25,"y":0.39},{"x":0.3,"y":0.41},{"x":0.65,"y":0.39},{"x":1.0,"y":0.42},{"x":1.35,"y":0.39},{"x":1.7,"y":0.41},{"x":2.0,"y":0.39},
{"x":-2.4,"y":0.27},{"x":-2.0,"y":0.25},{"x":-1.65,"y":0.28},{"x":-1.3,"y":0.25},{"x":-0.95,"y":0.27},{"x":-0.6,"y":0.25},{"x":-0.25,"y":0.28},{"x":0.3,"y":0.27},{"x":0.65,"y":0.25},{"x":1.0,"y":0.28},{"x":1.35,"y":0.25},{"x":1.6,"y":0.27},
{"x":-1.6,"y":0.13},{"x":-1.25,"y":0.11},{"x":-0.9,"y":0.14},{"x":-0.55,"y":0.11},{"x":-0.2,"y":0.13},{"x":0.15,"y":0.11},{"x":0.5,"y":0.14},{"x":0.85,"y":0.11},{"x":1.2,"y":0.13},
{"x":-0.6,"y":0.03},{"x":-0.3,"y":0.02},{"x":0.0,"y":0.04},{"x":0.3,"y":0.02}],
"db":[{"x":-8.77,"y":3.37},{"x":-7.31,"y":3.84},{"x":-6.77,"y":3.84},{"x":-6.52,"y":3.74},{"x":-6.88,"y":3.21},{"x":-6.45,"y":2.94},{"x":-3.44,"y":3.57},{"x":-1.94,"y":3.84},{"x":-1.1,"y":3.48},{"x":-2.79,"y":3.13},{"x":-3.03,"y":2.83},{"x":-2.28,"y":2.85},{"x":-1.46,"y":3.04},{"x":-1.35,"y":2.98},
{"x":-2.66,"y":2.61},{"x":-2.3,"y":2.63},{"x":-2.08,"y":2.65},{"x":-1.59,"y":2.67},{"x":-1.44,"y":2.65},{"x":-1.29,"y":2.54},{"x":-2.13,"y":2.34},{"x":-1.97,"y":2.28},{"x":-1.55,"y":2.38},{"x":-1.44,"y":2.34},{"x":-1.33,"y":2.31},{"x":-1.22,"y":2.26},{"x":-1.16,"y":2.2},{"x":-1.01,"y":2.15},{"x":-2.19,"y":2.11},{"x":-1.8,"y":2.12},{"x":-1.6,"y":2.12},{"x":-1.45,"y":2.1},{"x":-1.3,"y":2.1},{"x":-1.05,"y":2.1},{"x":-2.73,"y":2.0},{"x":-2.62,"y":2.0},{"x":-0.95,"y":2.25},{"x":-0.9,"y":2.05},{"x":-1.75,"y":2.08},{"x":-1.2,"y":2.05},{"x":-1.4,"y":2.45},{"x":-1.6,"y":2.1}],
"dr":[{"x":6.35,"y":4.3},{"x":10.05,"y":4.3},{"x":6.93,"y":3.84},{"x":6.97,"y":3.37},{"x":6.52,"y":3.21},{"x":6.74,"y":3.16},{"x":6.52,"y":2.96},{"x":6.2,"y":2.79},{"x":6.37,"y":2.71},{"x":6.9,"y":2.65},{"x":5.87,"y":2.43},{"x":6.3,"y":2.34},{"x":7.44,"y":2.26},{"x":8.82,"y":2.61},
{"x":1.01,"y":2.69},{"x":1.23,"y":2.65},{"x":1.12,"y":2.56},{"x":0.65,"y":2.43},{"x":1.16,"y":2.42},{"x":1.81,"y":2.42},{"x":2.09,"y":2.69},{"x":2.41,"y":2.78},{"x":1.23,"y":2.26},{"x":1.34,"y":2.19},{"x":2.19,"y":2.26},{"x":2.63,"y":2.36},{"x":2.73,"y":2.26},{"x":3.44,"y":2.28},{"x":3.5,"y":2.22},{"x":3.16,"y":2.95},{"x":3.55,"y":2.71},{"x":4.02,"y":2.63},{"x":1.23,"y":2.11},{"x":1.34,"y":2.06},{"x":1.12,"y":2.02},{"x":1.77,"y":2.09},{"x":1.92,"y":2.05},{"x":2.3,"y":2.02},{"x":2.41,"y":2.02},{"x":3.64,"y":2.03},{"x":2.75,"y":2.17},{"x":2.86,"y":2.33},{"x":1.6,"y":2.3},{"x":0.8,"y":2.55}],
"dl":[{"t":"FAD3","x":-6.77,"y":3.84,"ex":-5.97,"ey":4.28,"lx":-5.55,"ly":4.37},
{"t":"orf19.9259","x":-7.31,"y":3.84,"ex":-7.7,"ey":3.95,"lx":-8.23,"ly":4.03},
{"t":"CHK1","x":-6.52,"y":3.74,"ex":-6.23,"ey":3.85,"lx":-5.55,"ly":3.95},
{"t":"BIO5","x":-8.77,"y":3.37,"ex":-8.77,"ey":3.37,"lx":-8.77,"ly":3.57},
{"t":"orf19.9024","x":-6.88,"y":3.21,"ex":-6.62,"ey":3.33,"lx":-6.19,"ly":3.41},
{"t":"RGI1","x":-3.44,"y":3.57,"ex":-3.35,"ey":3.66,"lx":-3.25,"ly":3.78},
{"t":"SAH1","x":-1.1,"y":3.48,"ex":-0.92,"ey":3.66,"lx":-0.77,"ly":3.75},
{"t":"ALD6","x":-2.79,"y":3.13,"ex":-2.66,"ey":3.25,"lx":-2.43,"ly":3.33},
{"t":"CAR1","x":-3.03,"y":2.83,"ex":-3.39,"ey":2.9,"lx":-4.15,"ly":2.94},
{"t":"OSM2","x":-2.28,"y":2.85,"ex":-1.89,"ey":2.9,"lx":-1.14,"ly":2.94},
{"t":"MRP7","x":-1.22,"y":2.26,"ex":-1.14,"ey":2.38,"lx":-1.14,"ly":2.47},
{"t":"KAR2","x":1.01,"y":2.69,"ex":0.95,"ey":2.9,"lx":0.84,"ly":3.0},
{"t":"MCA1","x":1.16,"y":2.42,"ex":1.59,"ey":2.54,"lx":2.3,"ly":2.59},
{"t":"ALS3","x":3.7,"y":1.76,"ex":4.13,"ey":1.88,"lx":4.45,"ly":1.98},
{"t":"orf19.13021","x":6.35,"y":4.3,"ex":6.3,"ey":4.42,"lx":6.22,"ly":4.51},
{"t":"GIT2","x":10.05,"y":4.3,"ex":10.0,"ey":4.42,"lx":9.98,"ly":4.5},
{"t":"orf19.11235","x":6.93,"y":3.84,"ex":6.87,"ey":3.95,"lx":6.82,"ly":4.03},
{"t":"orf19.12861","x":6.97,"y":3.37,"ex":6.9,"ey":3.49,"lx":6.82,"ly":3.57},
{"t":"orf19.13794","x":6.52,"y":3.21,"ex":6.4,"ey":3.19,"lx":4.99,"ly":3.18},
{"t":"SOD6","x":5.87,"y":2.43,"ex":5.9,"ey":2.56,"lx":5.96,"ly":2.64},
{"t":"ZRT101","x":8.8,"y":2.63,"ex":8.95,"ey":2.73,"lx":9.08,"ly":2.82},
{"t":"WOR3","x":7.46,"y":2.28,"ex":7.6,"ey":2.35,"lx":8.11,"ly":2.43}]
},
"concat":[
{"width":328,"height":215,"layer":[
 {"data":{"values":[{}]},"mark":{"type":"rect","color":"white","opacity":1,"clip":false},"encoding":{"x":{"datum":-11.98},"x2":{"datum":-11.9},"y":{"datum":7.343},"y2":{"datum":7.3}}},
 {"data":{"values":[{}]},"mark":{"type":"rect","filled":false,"stroke":"#222222","strokeWidth":1.5,"clip":false},"encoding":{"x":{"datum":-11.72},"x2":{"datum":11.46},"y":{"datum":6.625},"y2":{"datum":-1.31}}},
 {"data":{"values":[{}]},"mark":{"type":"rect","filled":false,"stroke":"#dcdcdc","strokeWidth":1,"clip":false},"encoding":{"x":{"datum":-10.36},"x2":{"datum":10.87},"y":{"datum":6.13},"y2":{"datum":-0.34}}},
 {"data":{"name":"ag"},"mark":{"type":"circle","size":28,"color":"#bebebe","opacity":1},"encoding":{"x":{"field":"x","type":"quantitative","scale":{"domain":[-10.36,10.87],"nice":false,"zero":false},"axis":{"values":[-10,-5,0,5,10],"title":"Fold change (Log₂)  (YNB-Serum/YNB-glucose)","titleX":165}},"y":{"field":"y","type":"quantitative","scale":{"domain":[-0.34,6.375],"nice":false,"zero":false},"axis":{"values":[0,2,4,6],"title":"Significance (−Log₁₀)"}}}},
 {"data":{"values":[{}]},"mark":{"type":"rule","color":"#555555","strokeWidth":0.8,"strokeDash":[2,2]},"encoding":{"x":{"datum":-0.5},"y":{"datum":-0.34},"y2":{"datum":6.13}}},
 {"data":{"values":[{}]},"mark":{"type":"rule","color":"#555555","strokeWidth":0.8,"strokeDash":[2,2]},"encoding":{"x":{"datum":0.5},"y":{"datum":-0.34},"y2":{"datum":6.13}}},
 {"data":{"values":[{}]},"mark":{"type":"rule","color":"#555555","strokeWidth":0.8,"strokeDash":[2,2]},"encoding":{"y":{"datum":2},"x":{"datum":-10.36},"x2":{"datum":10.87}}},
 {"data":{"name":"ab"},"mark":{"type":"circle","size":18,"color":"#1414e6","opacity":1},"encoding":{"x":{"field":"x","type":"quantitative"},"y":{"field":"y","type":"quantitative"}}},
 {"data":{"name":"ar"},"mark":{"type":"circle","size":18,"color":"#e8141c","opacity":1},"encoding":{"x":{"field":"x","type":"quantitative"},"y":{"field":"y","type":"quantitative"}}},
 {"data":{"name":"al"},"mark":{"type":"rule","color":"#555555","strokeWidth":0.7,"clip":false},"encoding":{"x":{"field":"x","type":"quantitative"},"y":{"field":"y","type":"quantitative"},"x2":{"field":"ex"},"y2":{"field":"ey"}}},
 {"data":{"name":"al"},"mark":{"type":"text","font":"Liberation Sans","fontSize":8.7,"color":"#3c3c3c","clip":false},"encoding":{"x":{"field":"lx","type":"quantitative"},"y":{"field":"ly","type":"quantitative"},"text":{"field":"t"}}},
 {"data":{"values":[{}]},"mark":{"type":"text","text":"232 proteins","font":"Open Sans","fontWeight":"bold","fontSize":11,"align":"left","baseline":"middle","color":"#111111","clip":false},"encoding":{"x":{"datum":-11.55},"y":{"datum":6.4}}},
 {"data":{"values":[{}]},"mark":{"type":"text","text":"16 proteins","font":"Open Sans","fontWeight":"bold","fontSize":11,"align":"right","baseline":"middle","color":"#111111","clip":false},"encoding":{"x":{"datum":11.13},"y":{"datum":6.4}}},
 {"data":{"values":[{}]},"mark":{"type":"text","text":"YNB-Serum","font":"Open Sans","fontSize":14,"align":"right","baseline":"middle","color":"#111111","clip":false},"encoding":{"x":{"datum":-1.17},"y":{"datum":7.05}}},
 {"data":{"values":[{}]},"mark":{"type":"text","text":"versus YNB-glucose","font":"Open Sans","fontSize":14,"fontStyle":"italic","align":"left","baseline":"middle","color":"#111111","clip":false},"encoding":{"x":{"datum":-0.91},"y":{"datum":7.05}}},
 {"data":{"values":[{}]},"mark":{"type":"text","text":"A","font":"Open Sans","fontWeight":"bold","fontSize":22,"align":"left","baseline":"alphabetic","color":"#000000","clip":false},"encoding":{"x":{"datum":-11.85},"y":{"datum":6.73}}}
]},
{"width":312,"height":215,"layer":[
 {"data":{"values":[{}]},"mark":{"type":"rect","filled":false,"stroke":"#222222","strokeWidth":1.5,"clip":false},"encoding":{"x":{"datum":-10.17},"x2":{"datum":10.73},"y":{"datum":4.8},"y2":{"datum":-0.88}}},
 {"data":{"values":[{}]},"mark":{"type":"rect","filled":false,"stroke":"#dcdcdc","strokeWidth":1,"clip":false},"encoding":{"x":{"datum":-8.47},"x2":{"datum":9.15},"y":{"datum":4.62},"y2":{"datum":-0.21}}},
 {"data":{"name":"bg"},"mark":{"type":"circle","size":28,"color":"#bebebe","opacity":1},"encoding":{"x":{"field":"x","type":"quantitative","scale":{"domain":[-8.47,9.15],"nice":false,"zero":false},"axis":{"values":[-5,0,5],"title":"Fold change (Log₂)  (Spider/YNB-glucose)","titleX":157}},"y":{"field":"y","type":"quantitative","scale":{"domain":[-0.21,4.62],"nice":false,"zero":false},"axis":{"values":[0,1,2,3,4],"title":"Significance (−Log₁₀)"}}}},
 {"data":{"values":[{}]},"mark":{"type":"rule","color":"#555555","strokeWidth":0.8,"strokeDash":[2,2]},"encoding":{"x":{"datum":-0.5},"y":{"datum":-0.21},"y2":{"datum":4.62}}},
 {"data":{"values":[{}]},"mark":{"type":"rule","color":"#555555","strokeWidth":0.8,"strokeDash":[2,2]},"encoding":{"x":{"datum":0.5},"y":{"datum":-0.21},"y2":{"datum":4.62}}},
 {"data":{"values":[{}]},"mark":{"type":"rule","color":"#555555","strokeWidth":0.8,"strokeDash":[2,2]},"encoding":{"y":{"datum":2},"x":{"datum":-8.47},"x2":{"datum":9.15}}},
 {"data":{"name":"bb"},"mark":{"type":"circle","size":18,"color":"#1414e6","opacity":1},"encoding":{"x":{"field":"x","type":"quantitative"},"y":{"field":"y","type":"quantitative"}}},
 {"data":{"name":"br"},"mark":{"type":"circle","size":18,"color":"#e8141c","opacity":1},"encoding":{"x":{"field":"x","type":"quantitative"},"y":{"field":"y","type":"quantitative"}}},
 {"data":{"name":"bl"},"mark":{"type":"rule","color":"#555555","strokeWidth":0.7,"clip":false},"encoding":{"x":{"field":"x","type":"quantitative"},"y":{"field":"y","type":"quantitative"},"x2":{"field":"ex"},"y2":{"field":"ey"}}},
 {"data":{"name":"bl"},"mark":{"type":"text","font":"Liberation Sans","fontSize":8.7,"color":"#3c3c3c","clip":false},"encoding":{"x":{"field":"lx","type":"quantitative"},"y":{"field":"ly","type":"quantitative"},"text":{"field":"t"}}},
 {"data":{"values":[{}]},"mark":{"type":"text","text":"127 proteins","font":"Open Sans","fontWeight":"bold","fontSize":11,"align":"left","baseline":"middle","color":"#111111","clip":false},"encoding":{"x":{"datum":-10.0},"y":{"datum":4.645}}},
 {"data":{"values":[{}]},"mark":{"type":"text","text":"20 proteins","font":"Open Sans","fontWeight":"bold","fontSize":11,"align":"right","baseline":"middle","color":"#111111","clip":false},"encoding":{"x":{"datum":10.56},"y":{"datum":4.645}}},
 {"data":{"values":[{}]},"mark":{"type":"text","text":"YNB-Spider","font":"Open Sans","fontSize":14,"align":"right","baseline":"middle","color":"#111111","clip":false},"encoding":{"x":{"datum":-1.03},"y":{"datum":5.105}}},
 {"data":{"values":[{}]},"mark":{"type":"text","text":"versus YNB-glucose","font":"Open Sans","fontSize":14,"fontStyle":"italic","align":"left","baseline":"middle","color":"#111111","clip":false},"encoding":{"x":{"datum":-0.75},"y":{"datum":5.105}}},
 {"data":{"values":[{}]},"mark":{"type":"text","text":"B","font":"Open Sans","fontWeight":"bold","fontSize":22,"align":"left","baseline":"alphabetic","color":"#000000","clip":false},"encoding":{"x":{"datum":-10.17},"y":{"datum":4.88}}}
]},
{"width":323,"height":210,"layer":[
 {"data":{"values":[{}]},"mark":{"type":"rect","filled":false,"stroke":"#222222","strokeWidth":1.5,"clip":false},"encoding":{"x":{"datum":-9.53},"x2":{"datum":10.82},"y":{"datum":4.29},"y2":{"datum":-0.78}}},
 {"data":{"values":[{}]},"mark":{"type":"rect","filled":false,"stroke":"#dcdcdc","strokeWidth":1,"clip":false},"encoding":{"x":{"datum":-8.15},"x2":{"datum":10.03},"y":{"datum":3.95},"y2":{"datum":-0.19}}},
 {"data":{"name":"cg"},"mark":{"type":"circle","size":28,"color":"#bebebe","opacity":1},"encoding":{"x":{"field":"x","type":"quantitative","scale":{"domain":[-8.436,10.03],"nice":false,"zero":false},"axis":{"values":[-5,0,5],"title":"Fold change (Log₂)  (YNB-NAG/YNB-glucose)","titleX":155}},"y":{"field":"y","type":"quantitative","scale":{"domain":[-0.19,3.95],"nice":false,"zero":false},"axis":{"values":[0,1,2,3],"offset":-5,"title":"Significance (−Log₁₀)"}}}},
 {"data":{"values":[{}]},"mark":{"type":"rule","color":"#555555","strokeWidth":0.8,"strokeDash":[2,2]},"encoding":{"x":{"datum":-0.5},"y":{"datum":-0.19},"y2":{"datum":3.95}}},
 {"data":{"values":[{}]},"mark":{"type":"rule","color":"#555555","strokeWidth":0.8,"strokeDash":[2,2]},"encoding":{"x":{"datum":0.5},"y":{"datum":-0.19},"y2":{"datum":3.95}}},
 {"data":{"values":[{}]},"mark":{"type":"rule","color":"#555555","strokeWidth":0.8,"strokeDash":[2,2]},"encoding":{"y":{"datum":2},"x":{"datum":-8.15},"x2":{"datum":10.03}}},
 {"data":{"name":"cb"},"mark":{"type":"circle","size":18,"color":"#1414e6","opacity":1},"encoding":{"x":{"field":"x","type":"quantitative"},"y":{"field":"y","type":"quantitative"}}},
 {"data":{"name":"cr"},"mark":{"type":"circle","size":18,"color":"#e8141c","opacity":1},"encoding":{"x":{"field":"x","type":"quantitative"},"y":{"field":"y","type":"quantitative"}}},
 {"data":{"name":"cl"},"mark":{"type":"rule","color":"#555555","strokeWidth":0.7,"clip":false},"encoding":{"x":{"field":"x","type":"quantitative"},"y":{"field":"y","type":"quantitative"},"x2":{"field":"ex"},"y2":{"field":"ey"}}},
 {"data":{"name":"cl"},"mark":{"type":"text","font":"Liberation Sans","fontSize":8.7,"color":"#3c3c3c","clip":false},"encoding":{"x":{"field":"lx","type":"quantitative"},"y":{"field":"ly","type":"quantitative"},"text":{"field":"t"}}},
 {"data":{"values":[{}]},"mark":{"type":"text","text":"12 proteins","font":"Open Sans","fontWeight":"bold","fontSize":11,"align":"left","baseline":"middle","color":"#111111","clip":false},"encoding":{"x":{"datum":-9.35},"y":{"datum":4.1}}},
 {"data":{"values":[{}]},"mark":{"type":"text","text":"20 proteins","font":"Open Sans","fontWeight":"bold","fontSize":11,"align":"right","baseline":"middle","color":"#111111","clip":false},"encoding":{"x":{"datum":10.55},"y":{"datum":4.1}}},
 {"data":{"values":[{}]},"mark":{"type":"text","text":"YNB-NAG","font":"Open Sans","fontSize":14,"align":"right","baseline":"middle","color":"#111111","clip":false},"encoding":{"x":{"datum":0.13},"y":{"datum":4.53}}},
 {"data":{"values":[{}]},"mark":{"type":"text","text":"versus YNB-glucose","font":"Open Sans","fontSize":14,"fontStyle":"italic","align":"left","baseline":"middle","color":"#111111","clip":false},"encoding":{"x":{"datum":0.42},"y":{"datum":4.53}}},
 {"data":{"values":[{}]},"mark":{"type":"text","text":"C","font":"Open Sans","fontWeight":"bold","fontSize":22,"align":"left","baseline":"alphabetic","color":"#000000","clip":false},"encoding":{"x":{"datum":-9.58},"y":{"datum":4.385}}}
]},
{"width":318,"height":212,"layer":[
 {"data":{"values":[{}]},"mark":{"type":"rect","filled":false,"stroke":"#222222","strokeWidth":1.5,"clip":false},"encoding":{"x":{"datum":-11.7},"x2":{"datum":12.11},"y":{"datum":5.11},"y2":{"datum":-0.87}}},
 {"data":{"values":[{}]},"mark":{"type":"rect","filled":false,"stroke":"#dcdcdc","strokeWidth":1,"clip":false},"encoding":{"x":{"datum":-9.76},"x2":{"datum":10.55},"y":{"datum":4.74},"y2":{"datum":-0.19}}},
 {"data":{"name":"dg"},"mark":{"type":"circle","size":28,"color":"#bebebe","opacity":1},"encoding":{"x":{"field":"x","type":"quantitative","scale":{"domain":[-9.954,10.55],"nice":false,"zero":false},"axis":{"values":[-5,0,5,10],"title":"Fold change (Log₂)  (Lee/YNB-glucose)","titleX":167}},"y":{"field":"y","type":"quantitative","scale":{"domain":[-0.19,4.74],"nice":false,"zero":false},"axis":{"values":[0,1,2,3,4],"offset":-3,"title":"Significance (−Log₁₀)"}}}},
 {"data":{"values":[{}]},"mark":{"type":"rule","color":"#555555","strokeWidth":0.8,"strokeDash":[2,2]},"encoding":{"x":{"datum":-0.5},"y":{"datum":-0.19},"y2":{"datum":4.74}}},
 {"data":{"values":[{}]},"mark":{"type":"rule","color":"#555555","strokeWidth":0.8,"strokeDash":[2,2]},"encoding":{"x":{"datum":0.5},"y":{"datum":-0.19},"y2":{"datum":4.74}}},
 {"data":{"values":[{}]},"mark":{"type":"rule","color":"#555555","strokeWidth":0.8,"strokeDash":[2,2]},"encoding":{"y":{"datum":2},"x":{"datum":-9.76},"x2":{"datum":10.55}}},
 {"data":{"name":"db"},"mark":{"type":"circle","size":18,"color":"#1414e6","opacity":1},"encoding":{"x":{"field":"x","type":"quantitative"},"y":{"field":"y","type":"quantitative"}}},
 {"data":{"name":"dr"},"mark":{"type":"circle","size":18,"color":"#e8141c","opacity":1},"encoding":{"x":{"field":"x","type":"quantitative"},"y":{"field":"y","type":"quantitative"}}},
 {"data":{"name":"dl"},"mark":{"type":"rule","color":"#555555","strokeWidth":0.7,"clip":false},"encoding":{"x":{"field":"x","type":"quantitative"},"y":{"field":"y","type":"quantitative"},"x2":{"field":"ex"},"y2":{"field":"ey"}}},
 {"data":{"name":"dl"},"mark":{"type":"text","font":"Liberation Sans","fontSize":8.7,"color":"#3c3c3c","clip":false},"encoding":{"x":{"field":"lx","type":"quantitative"},"y":{"field":"ly","type":"quantitative"},"text":{"field":"t"}}},
 {"data":{"values":[{}]},"mark":{"type":"text","text":"42 proteins","font":"Open Sans","fontWeight":"bold","fontSize":11,"align":"left","baseline":"middle","color":"#111111","clip":false},"encoding":{"x":{"datum":-11.44},"y":{"datum":4.92}}},
 {"data":{"values":[{}]},"mark":{"type":"text","text":"44 proteins","font":"Open Sans","fontWeight":"bold","fontSize":11,"align":"right","baseline":"middle","color":"#111111","clip":false},"encoding":{"x":{"datum":11.84},"y":{"datum":4.92}}},
 {"data":{"values":[{}]},"mark":{"type":"text","text":"Lee","font":"Open Sans","fontSize":14,"align":"right","baseline":"middle","color":"#111111","clip":false},"encoding":{"x":{"datum":-1.99},"y":{"datum":5.4}}},
 {"data":{"values":[{}]},"mark":{"type":"text","text":"versus YNB-glucose","font":"Open Sans","fontSize":14,"fontStyle":"italic","align":"left","baseline":"middle","color":"#111111","clip":false},"encoding":{"x":{"datum":-1.68},"y":{"datum":5.4}}},
 {"data":{"values":[{}]},"mark":{"type":"text","text":"D","font":"Open Sans","fontWeight":"bold","fontSize":22,"align":"left","baseline":"alphabetic","color":"#000000","clip":false},"encoding":{"x":{"datum":-11.7},"y":{"datum":5.25}}}
]}
]
}
